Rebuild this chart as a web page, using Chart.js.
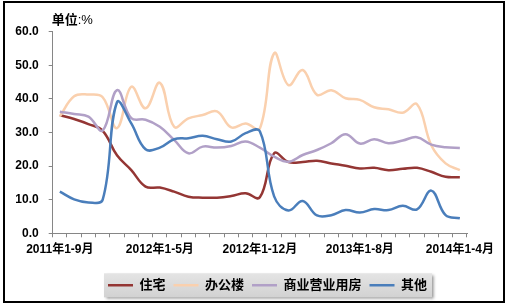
<!DOCTYPE html>
<html>
<head>
<meta charset="utf-8">
<script src="https://cdn.jsdelivr.net/npm/chart.js@4.4.1/dist/chart.umd.min.js"></script>
<style>
html, body { margin: 0; padding: 0; background: #fff; }
#wrap { width: 509px; height: 308px; position: relative; }
</style>
</head>
<body>
<div id="wrap"><canvas id="chart"></canvas></div>
<script>
// month labels (cumulative periods), only some are shown on the axis
var categories = [
    '2011年1-9月', '2011年1-10月', '2011年1-11月', '2011年1-12月',
    '2012年1-2月', '2012年1-3月', '2012年1-4月', '2012年1-5月', '2012年1-6月', '2012年1-7月',
    '2012年1-8月', '2012年1-9月', '2012年1-10月', '2012年1-11月', '2012年1-12月',
    '2013年1-2月', '2013年1-3月', '2013年1-4月', '2013年1-5月', '2013年1-6月', '2013年1-7月',
    '2013年1-8月', '2013年1-9月', '2013年1-10月', '2013年1-11月', '2013年1-12月',
    '2014年1-2月', '2014年1-3月', '2014年1-4月'
];
var tickLabels = ['2011年1-9月', '2012年1-5月', '2012年1-12月', '2013年1-8月', '2014年1-4月'];
var seriesNames = ['住宅', '办公楼', '商业营业用房', '其他'];

var residential = [35.2, 34.0, 32.5, 30.5, 23.2, 18.8, 13.9, 13.6, 12.4, 10.9, 10.6, 10.6, 11.1, 11.9, 10.7,
                   23.8, 21.2, 21.2, 21.6, 20.8, 20.1, 19.3, 19.5, 18.8, 19.2, 19.5, 18.3, 16.8, 16.7];
var office      = [34.8, 40.8, 41.3, 40.5, 31.3, 43.6, 37.2, 44.8, 31.7, 34.2, 35.2, 36.3, 31.5, 32.7, 31.2,
                   53.6, 44.1, 48.6, 41.2, 42.6, 40.2, 39.7, 37.5, 36.9, 35.9, 38.4, 26.2, 20.8, 18.8];
var commercial  = [36.2, 35.5, 34.7, 30.6, 42.6, 34.3, 33.8, 31.7, 27.8, 23.8, 25.8, 25.5, 26.0, 27.3, 25.5,
                   22.8, 21.3, 23.3, 24.8, 26.8, 29.5, 26.7, 28.0, 26.8, 27.6, 28.6, 26.4, 25.6, 25.4];
var other       = [12.4, 10.1, 9.2, 10.0, 39.0, 32.7, 25.0, 25.5, 28.0, 28.3, 29.0, 28.0, 27.3, 29.8, 30.4,
                   11.0, 6.8, 9.6, 5.3, 5.4, 6.9, 6.2, 7.2, 6.9, 8.2, 7.1, 12.7, 5.4, 4.5];

var colors = ['#943634', '#FAD0AE', '#B1A0C7', '#4A7EBB'];

var FONT = "'Liberation Sans', 'Noto Sans CJK SC', sans-serif";
Chart.defaults.font.family = FONT;
Chart.defaults.color = '#000';

function makeSet(i, values) {
    return {
        label: seriesNames[i],
        data: values,
        borderColor: colors[i],
        backgroundColor: colors[i],
        borderWidth: 2.5,
        pointRadius: 0,
        tension: 0.4,
        fill: false,
        order: 4 - i   // later series drawn on top like excel
    };
}

// frame, unit title and legend background
var framePlugin = {
    id: 'frame',
    afterLayout: function (chart) {
        chart.legend.left += 30;
        chart.legend.right += 30;
    },
    beforeDraw: function (chart) {
        var ctx = chart.ctx;
        var boxes = chart.legend.legendHitBoxes;
        if (!boxes || !boxes.length) return;
        var l = boxes[0].left - 4, r = boxes[boxes.length - 1].left + boxes[boxes.length - 1].width + 5;
        var cy = boxes[0].top + boxes[0].height / 2;
        ctx.save();
        ctx.shadowColor = 'rgba(0,0,0,0.45)';
        ctx.shadowBlur = 3;
        ctx.shadowOffsetX = 2;
        ctx.shadowOffsetY = 2;
        var g = ctx.createLinearGradient(0, cy - 12, 0, cy + 12);
        g.addColorStop(0, '#E4E4E4');
        g.addColorStop(1, '#D2D2D2');
        ctx.fillStyle = g;
        ctx.fillRect(l, cy - 12, r - l, 24);
        ctx.restore();
    },
    afterDraw: function (chart) {
        var ctx = chart.ctx;
        ctx.save();
        ctx.textBaseline = 'middle';
        ctx.fillStyle = '#000';
        ctx.font = 'bold 13px ' + FONT;
        var x = chart.chartArea.left - 1;
        ctx.fillText('单位', x, 20);
        x += ctx.measureText('单位').width;
        ctx.font = '13px ' + FONT;
        ctx.fillText(':%', x, 20);
        ctx.lineWidth = 2;
        ctx.strokeStyle = '#000';
        ctx.strokeRect(4, 2, 500, 300);
        ctx.restore();
    }
};

new Chart(document.getElementById('chart'), {
    type: 'line',
    data: {
        labels: categories,
        datasets: [makeSet(0, residential), makeSet(1, office), makeSet(2, commercial), makeSet(3, other)]
    },
    options: {
        responsive: true,
        maintainAspectRatio: false,
        animation: false,
        devicePixelRatio: 1,
        layout: { padding: { left: 8, top: 31.7, right: 42, bottom: 6.2 } },
        scales: {
            x: {
                offset: true,
                grid: { offset: true, drawOnChartArea: false, color: '#868686', tickLength: 4 },
                border: { color: '#868686' },
                ticks: {
                    autoSkip: false, maxRotation: 0, minRotation: 0, padding: 5,
                    font: { size: 12, weight: 'bold' },
                    callback: function (v, i) {
                        var lab = categories[i];
                        return tickLabels.indexOf(lab) >= 0 ? lab : '';
                    }
                },
                afterFit: function (s) { s.height = 37.5; s.paddingLeft = 0; s.paddingRight = 0; }
            },
            y: {
                min: 0, max: 60,
                grid: { drawOnChartArea: false, color: '#868686', tickLength: 4 },
                border: { color: '#868686' },
                ticks: {
                    stepSize: 10, padding: 10,
                    font: { size: 12, weight: 'bold' },
                    callback: function (v) { return v.toFixed(1); }
                },
                afterFit: function (s) { s.width = 44.7; s.paddingTop = 0; s.paddingBottom = 0; }
            }
        },
        plugins: {
            legend: {
                position: 'bottom',
                labels: {
                    usePointStyle: true, pointStyle: 'line', pointStyleWidth: 25,
                    padding: 8, color: '#000',
                    font: { size: 13, weight: 'bold' },
                    sort: function (a, b) { return a.datasetIndex - b.datasetIndex; }
                }
            },
            tooltip: { enabled: false }
        }
    },
    plugins: [framePlugin]
});
</script>
</body>
</html>
